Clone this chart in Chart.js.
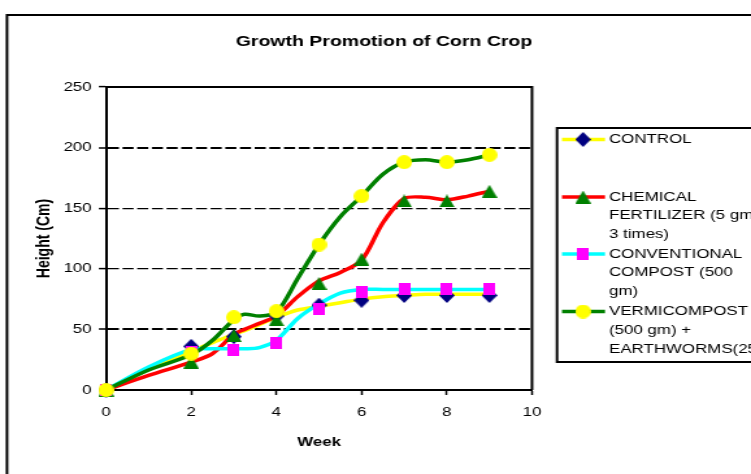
<!DOCTYPE html>
<html>
<head>
<meta charset="utf-8">
<script src="https://cdn.jsdelivr.net/npm/chart.js@4.4.1/dist/chart.umd.min.js"></script>
<style>
html,body{margin:0;padding:0;background:#fff;overflow:hidden}
</style>
</head>
<body>
<canvas id="c" width="578" height="474" style="display:block;width:751px;height:474px"></canvas>
<script>
// ---- data ----
const chartTitle = 'Growth Promotion of Corn Crop';
const xTitle = 'Week';
const yTitle = 'Height (Cm)';
const xTickValues = [0, 2, 4, 6, 8, 10];
const yTickValues = [0, 50, 100, 150, 200, 250];

const seriesNames = [
  'CONTROL',
  'CHEMICAL FERTILIZER (5 gm 3 times)',
  'CONVENTIONAL COMPOST (500 gm)',
  'VERMICOMPOST (500 gm) + EARTHWORMS(25'
];
const legendText = [
  ['CONTROL'],
  ['CHEMICAL', 'FERTILIZER (5 gm', '3 times)'],
  ['CONVENTIONAL', 'COMPOST (500', 'gm)'],
  ['VERMICOMPOST', '(500 gm) +', 'EARTHWORMS(25']
];

// measured weeks (markers)
const weeks = [0, 2, 3, 4, 5, 6, 7, 8, 9];
const controlValues      = [0, 36, 44, 61, 70, 74, 78, 78, 78];
const chemicalValues     = [0, 23, 45, 58, 88, 108, 156, 156, 164];
const conventionalValues = [0, 31, 33, 39, 67, 81, 83, 83, 83];
const vermicompostValues = [0, 30, 60, 65, 120, 160, 188, 188, 194];

// drawn connecting curves
const curveWeeks = [0, 1, 2, 2.5, 3, 3.25, 3.6, 4, 4.5, 5, 5.5, 6, 6.5, 7, 7.5, 8, 8.5, 9];
const controlCurve      = [0, 17, 32, 39, 46, 49, 54, 60, 66, 69, 72, 75, 77, 78, 79, 79, 79, 79];
const chemicalCurve     = [0, 12, 23, 30, 46, 50, 55, 61, 77, 90, 97, 107, 138, 158, 159, 157, 160, 164];
const conventionalCurve = [0, 19, 33.5, 34, 34, 34, 35, 41, 59, 71, 80, 83, 83, 83, 83, 83, 83, 83];
const vermicompostCurve = [0, 16.5, 29, 41, 58, 62.5, 61, 64, 92, 120, 143, 160, 178, 188, 190, 188, 190, 194];

// ---- rendering ----
const SX = 751 / 578; // horizontal stretch of the reference picture
const FONT = "'Liberation Sans', Arial, Helvetica, sans-serif";

function markerImage(kind, w, h, color) {
  const c = document.createElement('canvas');
  c.width = w; c.height = h;
  const g = c.getContext('2d');
  g.fillStyle = color;
  g.beginPath();
  if (kind === 'diamond') { g.moveTo(w/2, 0); g.lineTo(w, h/2); g.lineTo(w/2, h); g.lineTo(0, h/2); }
  else if (kind === 'triangle') { g.moveTo(w/2, 0); g.lineTo(w, h); g.lineTo(0, h); }
  else if (kind === 'square') { g.rect(0, 0, w, h); }
  else { g.ellipse(w/2, h/2, w/2, h/2, 0, 0, Math.PI * 2); }
  g.closePath();
  g.fill();
  return c;
}

const styles = [
  { line: '#FFFF00', marker: markerImage('diamond', 12, 15, '#000080') },
  { line: '#FF0000', marker: markerImage('triangle', 12, 13, '#008000') },
  { line: '#00FFFF', marker: markerImage('square', 9, 12, '#FF00FF') },
  { line: '#008000', marker: markerImage('circle', 12, 14, '#FFFF00') }
];
const allValues = [controlValues, chemicalValues, conventionalValues, vermicompostValues];
const allCurves = [controlCurve, chemicalCurve, conventionalCurve, vermicompostCurve];

const datasets = [];
allCurves.forEach((curve, i) => {
  datasets.push({
    label: seriesNames[i] + ' line',
    data: curveWeeks.map((w, k) => ({ x: w, y: curve[k] })),
    borderColor: styles[i].line,
    borderWidth: 3.5,
    pointRadius: 0,
    tension: 0.3,
    fill: false,
    clip: false,
    order: 20 - i
  });
});
allValues.forEach((vals, i) => {
  datasets.push({
    label: seriesNames[i],
    data: weeks.map((w, k) => ({ x: w, y: vals[k] })),
    showLine: false,
    pointStyle: styles[i].marker,
    pointRadius: 7,
    pointHoverRadius: 7,
    clip: false,
    order: 10 - i
  });
});

const deco = {
  id: 'deco',
  beforeDraw(chart) {
    const { ctx, width, height } = chart;
    ctx.save();
    ctx.fillStyle = '#fff';
    ctx.fillRect(0, 0, width, height);
    ctx.strokeStyle = '#000';
    ctx.lineWidth = 2;
    ctx.strokeRect(7 / SX, 15, width + 20, height + 20);
    ctx.fillStyle = '#000';
    ctx.font = 'bold 15px ' + FONT;
    ctx.textAlign = 'center';
    ctx.textBaseline = 'middle';
    ctx.fillText(chartTitle, 384 / SX, 42);
    ctx.restore();
  },
  beforeDatasetsDraw(chart) {
    const { ctx, chartArea: a } = chart;
    ctx.save();
    ctx.strokeStyle = '#000';
    ctx.lineWidth = 2;
    ctx.beginPath();
    ctx.moveTo(a.left, a.top);
    ctx.lineTo(a.right, a.top);
    ctx.lineTo(a.right, a.bottom);
    ctx.stroke();
    ctx.restore();
  },
  afterDraw(chart) {
    const { ctx } = chart;
    ctx.save();
    ctx.strokeStyle = '#000';
    ctx.lineWidth = 2;
    ctx.strokeRect(557 / SX, 128, 400, 234);
    const ys = [139.5, 197, 254, 311.5];
    ctx.font = '13px ' + FONT;
    ctx.fillStyle = '#000';
    ctx.textAlign = 'left';
    ctx.textBaseline = 'middle';
    legendText.forEach((lines, i) => {
      const y = ys[i];
      ctx.strokeStyle = styles[i].line;
      ctx.lineWidth = 3.5;
      ctx.beginPath();
      ctx.moveTo(562 / SX, y);
      ctx.lineTo(605 / SX, y);
      ctx.stroke();
      const m = styles[i].marker;
      ctx.drawImage(m, 583 / SX - m.width / 2, y - m.height / 2);
      lines.forEach((t, k) => ctx.fillText(t, 609 / SX, y + k * 18.8));
    });
    ctx.restore();
  }
};

new Chart(document.getElementById('c'), {
  type: 'line',
  data: { datasets },
  options: {
    responsive: false,
    devicePixelRatio: 1,
    animation: false,
    events: [],
    layout: { padding: { left: 0, top: 87, right: 578 - 532 / SX, bottom: 0 } },
    plugins: {
      legend: { display: false },
      title: { display: false },
      tooltip: { enabled: false }
    },
    scales: {
      x: {
        type: 'linear',
        min: 0, max: 10,
        afterBuildTicks: s => { s.ticks = xTickValues.map(v => ({ value: v })); },
        afterFit: s => { s.height = 84; },
        grid: { drawOnChartArea: false, drawTicks: true, tickLength: 5, tickColor: '#000', tickWidth: 1.5, color: '#000' },
        border: { display: true, color: '#000', width: 2 },
        ticks: { color: '#000', font: { family: FONT, size: 13 }, padding: 10, maxRotation: 0, autoSkip: false },
        title: { display: true, text: xTitle, color: '#000', font: { family: FONT, size: 13, weight: 'bold' }, padding: { top: 0, bottom: 24 } }
      },
      y: {
        type: 'linear',
        min: 0, max: 250,
        afterBuildTicks: s => { s.ticks = yTickValues.map(v => ({ value: v })); },
        afterFit: s => { s.width = 106 / SX; },
        grid: {
          color: c => (c.tick && (c.tick.value === 0 || c.tick.value === 250)) ? 'rgba(0,0,0,0)' : '#000',
          lineWidth: c => (c.tick && (c.tick.value === 50 || c.tick.value === 200)) ? 2 : 1.2,
          tickColor: '#000', tickLength: 5.5, tickWidth: 1.5, tickBorderDash: []
        },
        border: { display: true, color: '#000', width: 2, dash: [8.5, 2.8] },
        ticks: { color: '#000', font: { family: FONT, size: 13 }, padding: 5.5 },
        title: { display: true, text: yTitle, color: '#000', font: { family: FONT, size: 14, weight: 'bold' }, padding: { top: 26, bottom: 0 } }
      }
    }
  },
  plugins: [deco]
});
</script>
</body>
</html>
